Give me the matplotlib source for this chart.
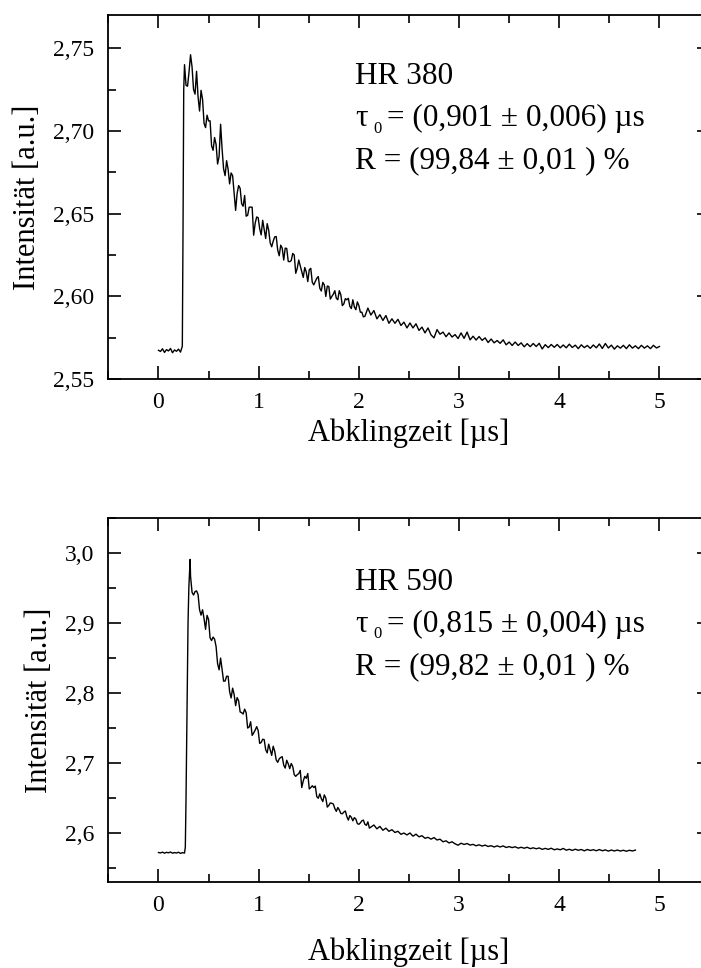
import numpy as np
import matplotlib
matplotlib.use("Agg")
import matplotlib.pyplot as plt
from matplotlib.ticker import MultipleLocator, FuncFormatter
from matplotlib.transforms import offset_copy

plt.rcParams['font.family'] = ['Liberation Serif', 'DejaVu Serif']

# --- HR 380 (top panel) ---
t_base_380 = np.arange(0, 0.23, 0.02)
y_base_380 = [2.5675, 2.5668, 2.5684, 2.5662, 2.5679, 2.5671, 2.5686, 2.5660,
              2.5677, 2.5669, 2.5682, 2.5664]
t_rise_380 = [0.238, 0.245, 0.252]
y_rise_380 = [2.570, 2.640, 2.725]
y_decay_380 = [
    2.740, 2.727, 2.746, 2.725, 2.736, 2.712, 2.719, 2.702, 2.706, 2.691,
    2.696, 2.680, 2.704, 2.677, 2.682, 2.668, 2.673, 2.652, 2.667, 2.656,
    2.661, 2.649, 2.654, 2.637, 2.648, 2.641, 2.646, 2.635, 2.640, 2.630,
    2.636, 2.628, 2.631, 2.622, 2.629, 2.621, 2.626, 2.614, 2.622, 2.615,
    2.6175, 2.609, 2.617, 2.607, 2.611, 2.605, 2.6085, 2.600, 2.606, 2.600,
    2.6035, 2.598, 2.601, 2.5955, 2.598, 2.594, 2.598, 2.592, 2.5945, 2.5905,
    2.588, 2.593, 2.5888, 2.5915, 2.5865, 2.589, 2.5855, 2.5885, 2.5838, 2.5865,
    2.5838, 2.5862, 2.5825, 2.5845, 2.581, 2.584, 2.581, 2.5835, 2.5795, 2.5815,
    2.578, 2.581, 2.5768, 2.575, 2.580, 2.5772, 2.5785, 2.5757, 2.578, 2.5755,
    2.577, 2.5746, 2.578, 2.5747, 2.5785, 2.5738, 2.576, 2.5737, 2.5758, 2.5735,
    2.575, 2.5722, 2.5743, 2.572, 2.5734, 2.5717, 2.5738, 2.5708, 2.5725, 2.5704,
    2.5725, 2.5704, 2.572, 2.5696, 2.5715, 2.5697, 2.5716, 2.5698, 2.5717, 2.5683,
    2.5709, 2.5691, 2.571, 2.5693, 2.571, 2.569, 2.5707, 2.569, 2.5712, 2.5692,
    2.5706, 2.5685, 2.5708, 2.5691, 2.5704, 2.5687, 2.5707, 2.569, 2.5713, 2.5686,
    2.5716, 2.5689, 2.5706, 2.5682, 2.5702, 2.5688, 2.5705, 2.5685, 2.5708, 2.5688,
    2.5702, 2.5685, 2.5705, 2.5688, 2.5702, 2.5685, 2.5705, 2.5689, 2.5698]
t_decay_380 = np.linspace(0.26, 5.0, len(y_decay_380))
# extra samples between the ones above, early part of the decay
y_mid_380 = [
    2.7275, 2.7356, 2.7387, 2.7222, 2.7207, 2.7245, 2.7046, 2.7095, 2.7061, 2.6883,
    2.6918, 2.6846, 2.689, 2.673, 2.6768, 2.6746, 2.6628, 2.6623, 2.6653, 2.6545,
    2.6485, 2.6539, 2.6539, 2.6442, 2.6476, 2.6372, 2.6406, 2.644, 2.6324, 2.6334,
    2.6362, 2.6246, 2.6292, 2.6292, 2.6212, 2.6217, 2.625, 2.617, 2.6186, 2.6115,
    2.6148, 2.6161, 2.6086, 2.6091, 2.612, 2.6033, 2.607, 2.6063, 2.5984, 2.6014,
    2.5989, 2.6035, 2.5945, 2.5987, 2.5989, 2.5927, 2.5937, 2.5967, 2.5905, 2.5877]
t_mid_380 = np.linspace(0.275, 2.045, len(y_mid_380))

# --- HR 590 (bottom panel) ---
t_base_590 = np.arange(0, 0.27, 0.02)
y_base_590 = [2.5722, 2.5716, 2.5727, 2.5713, 2.5724, 2.5718, 2.5729, 2.5712,
              2.5721, 2.5715, 2.5726, 2.5709, 2.5720, 2.5714]
t_rise_590 = [0.268, 0.275, 0.285, 0.295, 0.303, 0.310, 0.316]
y_rise_590 = [2.580, 2.650, 2.780, 2.900, 2.950, 2.972, 2.991]
y_decay_590 = [
    2.967, 2.940, 2.946, 2.919, 2.919, 2.891, 2.905, 2.875, 2.877, 2.842,
    2.850, 2.817, 2.824, 2.802, 2.807, 2.782, 2.789, 2.772, 2.777, 2.750,
    2.759, 2.743, 2.752, 2.728, 2.734, 2.719, 2.727, 2.711, 2.717, 2.701,
    2.708, 2.697, 2.704, 2.692, 2.695, 2.681, 2.685, 2.665, 2.681, 2.685,
    2.665, 2.665, 2.652, 2.656, 2.645, 2.650, 2.6395, 2.6425, 2.635, 2.6365,
    2.628, 2.630, 2.6235, 2.625, 2.6175, 2.620, 2.6125, 2.6175, 2.6125, 2.616,
    2.6085, 2.6115, 2.606, 2.6095, 2.604, 2.607, 2.6025, 2.6048, 2.6008, 2.6025,
    2.5982, 2.600, 2.5973, 2.6001, 2.5955, 2.5984, 2.5946, 2.5962, 2.5925, 2.5939,
    2.5913, 2.5935, 2.5901, 2.5912, 2.5875, 2.5889, 2.5858, 2.5875, 2.5846, 2.5826,
    2.5855, 2.5837, 2.585, 2.5828, 2.5838, 2.5818, 2.5832, 2.5814, 2.5828, 2.5808,
    2.5819, 2.5801, 2.5817, 2.5801, 2.5816, 2.5794, 2.5806, 2.5792, 2.5804, 2.5784,
    2.5797, 2.5783, 2.5797, 2.5777, 2.5789, 2.5775, 2.5787, 2.5767, 2.5781, 2.5767,
    2.5783, 2.5761, 2.5773, 2.5761, 2.578, 2.5755, 2.5768, 2.5752, 2.5769, 2.5754,
    2.5765, 2.5746, 2.5765, 2.5751, 2.5762, 2.5747, 2.5764, 2.5747, 2.5759, 2.5742,
    2.5757, 2.5744, 2.5757, 2.5743, 2.5754, 2.574, 2.5754, 2.5744, 2.5756]
t_decay_590 = np.linspace(0.32, 4.76, len(y_decay_590))
y_mid_590 = [
    2.944, 2.9449, 2.9408, 2.9113, 2.9063, 2.911, 2.8789, 2.880, 2.8664, 2.8332,
    2.8337, 2.8172, 2.824, 2.793, 2.798, 2.7935, 2.773, 2.770, 2.772, 2.7515,
    2.7395, 2.747, 2.7465, 2.7295, 2.7335, 2.7145, 2.719, 2.724, 2.7045, 2.706,
    2.7091, 2.6928, 2.6989, 2.6994, 2.6834, 2.6834, 2.6895, 2.6745, 2.6782, 2.663,
    2.6676, 2.6672, 2.6497, 2.6492, 2.6545, 2.6371, 2.643, 2.6415, 2.631, 2.633,
    2.6275, 2.6315, 2.6185, 2.6225, 2.622, 2.6135, 2.6145, 2.6185, 2.611, 2.607]
t_mid_590 = np.linspace(0.335, 2.105, len(y_mid_590))

# annotation texts
names = ['HR 380', 'HR 590']
tau_val = ['0,901', '0,815']
tau_err = ['0,006', '0,004']
r_val = ['99,84', '99,82']
r_err = ['0,01', '0,01']

fig = plt.figure(figsize=(7.01, 9.68), dpi=100)
ax1 = fig.add_axes([0.1546, 0.6082, 0.8576, 0.3763])
ax2 = fig.add_axes([0.1546, 0.0888, 0.8576, 0.3760])

def comma(v, pos, nd):
    return f"{v:.{nd}f}".replace('.', ',')

def setup(ax, ylim, major, minor, nd, xpad):
    ax.set_xlim(-0.5, 5.5)
    ax.set_ylim(*ylim)
    ax.xaxis.set_major_locator(MultipleLocator(1))
    ax.xaxis.set_minor_locator(MultipleLocator(0.5))
    ax.yaxis.set_major_locator(MultipleLocator(major))
    ax.yaxis.set_minor_locator(MultipleLocator(minor))
    ax.yaxis.set_major_formatter(FuncFormatter(lambda v, p: comma(v, p, nd)))
    ax.tick_params(which='both', direction='in', top=True, right=True, width=1.2,
                   labelsize=17)
    ax.tick_params(axis='x', which='both', pad=9)
    ax.tick_params(axis='y', which='both', pad=10)
    ax.tick_params(which='major', length=9.5)
    ax.tick_params(which='minor', length=5.5)
    for s in ax.spines.values():
        s.set_linewidth(1.3)
    ax.set_xlabel('Abklingzeit [µs]', fontsize=22, labelpad=xpad)
    ax.set_ylabel('Intensität [a.u.]', fontsize=22, labelpad=8)

def info(ax, y0, i):
    fs = 22.5
    dy = 0.115
    ax.text(0.41, y0, names[i], transform=ax.transAxes, fontsize=fs, va='center')
    ax.text(0.41, y0 - dy, 'τ', transform=ax.transAxes, fontsize=fs, va='center')
    ax.text(0.41, y0 - dy, '0', fontsize=12, va='center',
            transform=offset_copy(ax.transAxes, fig, x=13, y=-7, units='points'))
    ax.text(0.41, y0 - dy, f'= ({tau_val[i]} ± {tau_err[i]}) µs', fontsize=fs, va='center',
            transform=offset_copy(ax.transAxes, fig, x=23, y=0, units='points'))
    ax.text(0.41, y0 - 2 * dy, f'R = ({r_val[i]} ± {r_err[i]} ) %', transform=ax.transAxes,
            fontsize=fs, va='center')

curves = [
    ((t_base_380, t_rise_380, t_decay_380, t_mid_380),
     (y_base_380, y_rise_380, y_decay_380, y_mid_380), ax1),
    ((t_base_590, t_rise_590, t_decay_590, t_mid_590),
     (y_base_590, y_rise_590, y_decay_590, y_mid_590), ax2)]
for t_parts, y_parts, ax in curves:
    t = np.concatenate(t_parts)
    y = np.concatenate(y_parts)
    order = np.argsort(t)
    ax.plot(t[order], y[order], color='black', lw=1.0)

setup(ax1, (2.55, 2.77), 0.05, 0.025, 2, 4)
setup(ax2, (2.53, 3.05), 0.1, 0.05, 1, 16)
info(ax1, 0.83, 0)
info(ax2, 0.822, 1)

fig.savefig('out.png', dpi=100)
